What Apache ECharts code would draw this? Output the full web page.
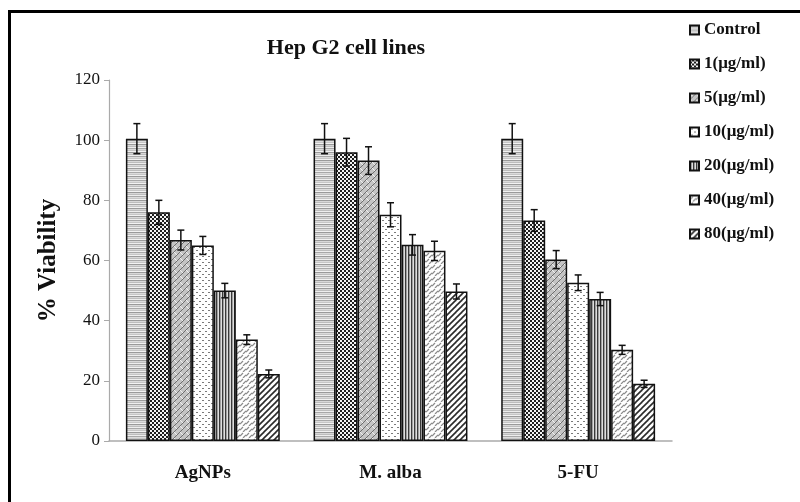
<!DOCTYPE html>
<html style="height:100%;">
<head>
	<meta charset="utf-8" />
	<title>Hep G2 cell lines</title>
	<script type="text/javascript" src="https://cdn.jsdelivr.net/npm/echarts@6/dist/echarts.min.js"></script>
</head>
<body style="margin:0;padding:0;height:100%;background:#fff;">
	<div id="chart" style="width:800px;height:502px;"></div>
	<script type="text/javascript">
		// data
		const categories = ["AgNPs", "M. alba", "5-FU"];
		const seriesNames = ["Control", "1(μg/ml)", "5(μg/ml)", "10(μg/ml)", "20(μg/ml)", "40(μg/ml)", "80(μg/ml)"];
		const control = [100.5, 100.5, 100.5];
		const dose1 = [76, 96, 73.3];
		const dose5 = [66.8, 93.2, 60.3];
		const dose10 = [65, 75.2, 52.6];
		const dose20 = [50, 65.2, 47.2];
		const dose40 = [33.7, 63.2, 30.3];
		const dose80 = [22.3, 49.7, 19];
		const errControl = [5, 5, 5];
		const err1 = [4, 4.6, 3.6];
		const err5 = [3.3, 4.6, 3];
		const err10 = [3, 4, 2.6];
		const err20 = [2.4, 3.4, 2.2];
		const err40 = [1.6, 3.2, 1.5];
		const err80 = [1.3, 2.5, 1.2];
		const yTicks = [0, 20, 40, 60, 80, 100, 120];

		const values = [control, dose1, dose5, dose10, dose20, dose40, dose80];
		const errors = [errControl, err1, err5, err10, err20, err40, err80];

		// little canvas tiles for the hatch fills
		function tile(w, h, draw) {
			const c = document.createElement("canvas");
			c.width = w; c.height = h;
			const ctx = c.getContext("2d");
			draw(ctx);
			return { image: c, repeat: "repeat" };
		}
		const fills = [
			tile(1, 8, function (ctx) { // horizontal lines
				const rows = ["#9a9a9a", "#d8d8d8", "#bdbdbd", "#eeeeee", "#a8a8a8", "#dcdcdc", "#c6c6c6", "#f2f2f2"];
				rows.forEach(function (col, i) { ctx.fillStyle = col; ctx.fillRect(0, i, 1, 1); });
			}),
			tile(4, 4, function (ctx) { // checker
				ctx.fillStyle = "#1e1e1e"; ctx.fillRect(0, 0, 4, 4);
				ctx.fillStyle = "#f4f4f4"; ctx.fillRect(0, 0, 2, 2); ctx.fillRect(2, 2, 2, 2);
			}),
			tile(6, 6, function (ctx) { // grey weave
				ctx.fillStyle = "#c4c4c4"; ctx.fillRect(0, 0, 6, 6);
				ctx.strokeStyle = "#6e6e6e"; ctx.lineWidth = 1;
				ctx.beginPath(); ctx.moveTo(0, 6); ctx.lineTo(6, 0); ctx.stroke();
				ctx.strokeStyle = "#f0f0f0";
				ctx.beginPath(); ctx.moveTo(0, 0); ctx.lineTo(3, 3); ctx.stroke();
			}),
			tile(6, 6, function (ctx) { // dots
				ctx.fillStyle = "#ffffff"; ctx.fillRect(0, 0, 6, 6);
				ctx.fillStyle = "#7a7a7a"; ctx.fillRect(1, 1, 2, 1); ctx.fillRect(4, 4, 2, 1);
			}),
			tile(3, 1, function (ctx) { // vertical stripes
				ctx.fillStyle = "#3a3a3a"; ctx.fillRect(0, 0, 1, 1);
				ctx.fillStyle = "#a0a0a0"; ctx.fillRect(1, 0, 1, 1);
				ctx.fillStyle = "#dedede"; ctx.fillRect(2, 0, 1, 1);
			}),
			tile(6, 6, function (ctx) { // diagonal dashes
				ctx.fillStyle = "#ffffff"; ctx.fillRect(0, 0, 6, 6);
				ctx.strokeStyle = "#8a8a8a"; ctx.lineWidth = 1.2;
				ctx.beginPath(); ctx.moveTo(0, 4); ctx.lineTo(3, 1); ctx.stroke();
				ctx.beginPath(); ctx.moveTo(3, 6); ctx.lineTo(6, 3); ctx.stroke();
			}),
			tile(6, 6, function (ctx) { // diagonal stripes
				ctx.fillStyle = "#ffffff"; ctx.fillRect(0, 0, 6, 6);
				ctx.strokeStyle = "#2a2a2a"; ctx.lineWidth = 1.6;
				ctx.beginPath(); ctx.moveTo(-1, 7); ctx.lineTo(7, -1); ctx.stroke();
				ctx.beginPath(); ctx.moveTo(-4, 4); ctx.lineTo(4, -4); ctx.stroke();
				ctx.beginPath(); ctx.moveTo(2, 10); ctx.lineTo(10, 2); ctx.stroke();
			})
		];

		const catGap = 0.18;
		const nSeries = seriesNames.length;

		const barSeries = seriesNames.map(function (name, i) {
			return {
				name: name,
				type: "bar",
				barGap: "0%",
				barCategoryGap: (catGap * 100) + "%",
				itemStyle: { color: fills[i], borderColor: "#111", borderWidth: 1.5 },
				data: values[i]
			};
		});

		const errData = [];
		values.forEach(function (arr, s) {
			arr.forEach(function (v, c) { errData.push([c, v, errors[s][c], s]); });
		});

		const errSeries = {
			type: "custom",
			name: "err",
			z: 10,
			silent: true,
			renderItem: function (params, api) {
				const c = api.value(0), v = api.value(1), e = api.value(2), s = api.value(3);
				const band = api.size([1, 0])[0];
				const bw = band * (1 - catGap) / nSeries;
				const center = api.coord([c, v]);
				const x = center[0] - band * (1 - catGap) / 2 + (s + 0.5) * bw;
				const top = api.coord([c, v + e])[1];
				const bot = api.coord([c, v - e])[1];
				const st = { stroke: "#111", lineWidth: 1.5 };
				return {
					type: "group",
					children: [
						{ type: "line", shape: { x1: x, y1: top, x2: x, y2: bot }, style: st },
						{ type: "line", shape: { x1: x - 3.5, y1: top, x2: x + 3.5, y2: top }, style: st },
						{ type: "line", shape: { x1: x - 3.5, y1: bot, x2: x + 3.5, y2: bot }, style: st }
					]
				};
			},
			data: errData
		};

		const chart = echarts.init(document.getElementById("chart"));
		chart.setOption({
			animation: false,
			backgroundColor: "#fff",
			textStyle: { fontFamily: "Liberation Serif" },
			title: {
				text: "Hep G2 cell lines",
				left: 341,
				textAlign: "center",
				top: 32,
				textStyle: { fontFamily: "Liberation Serif", fontSize: 22, fontWeight: "bold", color: "#111" }
			},
			legend: {
				orient: "vertical",
				left: 684,
				top: 16,
				icon: "rect",
				itemWidth: 9,
				itemHeight: 9,
				itemGap: 16,
				data: seriesNames,
				textStyle: { fontFamily: "Liberation Serif", fontSize: 17, fontWeight: "bold", color: "#111", lineHeight: 18 }
			},
			grid: { left: 109, right: 128, top: 80, bottom: 61 },
			xAxis: {
				type: "category",
				data: categories,
				axisLine: { lineStyle: { color: "#aaa", width: 1.5 } },
				axisTick: { show: false },
				axisLabel: { margin: 23, fontFamily: "Liberation Serif", fontSize: 19, fontWeight: "bold", color: "#111" }
			},
			yAxis: {
				type: "value",
				min: yTicks[0],
				max: yTicks[yTicks.length - 1],
				interval: yTicks[1] - yTicks[0],
				name: "% Viability",
				nameLocation: "middle",
				nameRotate: 90,
				nameGap: 48,
				nameTextStyle: { fontFamily: "Liberation Serif", fontSize: 25, fontWeight: "bold", color: "#111" },
				axisLine: { show: true, lineStyle: { color: "#aaa", width: 1.2 } },
				axisTick: { show: true, length: 5, lineStyle: { color: "#aaa" } },
				axisLabel: { margin: 9, fontFamily: "Liberation Serif", fontSize: 17, color: "#111" },
				splitLine: { show: false }
			},
			graphic: [
				{ type: "rect", shape: { x: 8, y: 10, width: 792, height: 3 }, style: { fill: "#000" } },
				{ type: "rect", shape: { x: 8, y: 10, width: 3, height: 492 }, style: { fill: "#000" } }
			],
			series: barSeries.concat([errSeries])
		});
	</script>
</body>
</html>
